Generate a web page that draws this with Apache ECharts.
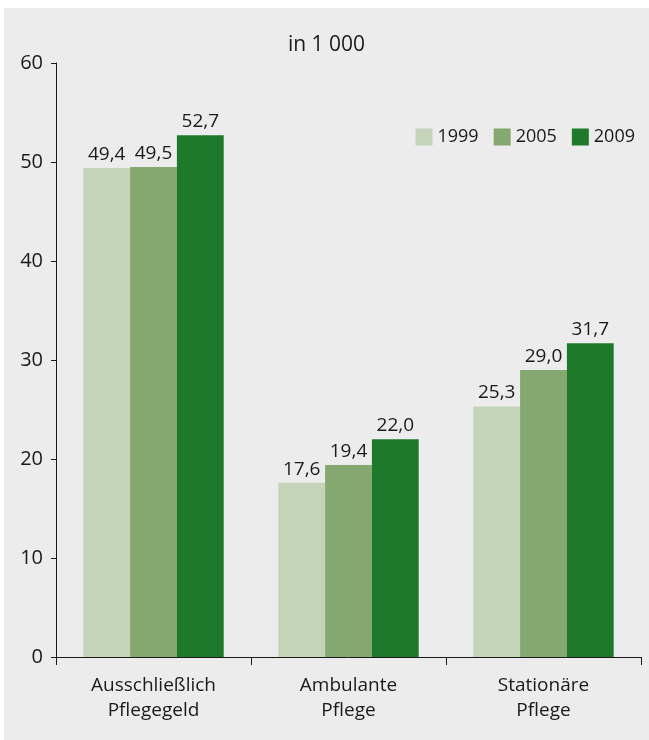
<!DOCTYPE html>
<html>
<head>
<meta charset="utf-8">
<script src="https://cdn.jsdelivr.net/npm/echarts@6/dist/echarts.min.js"></script>
<style>
  html, body { margin: 0; padding: 0; background: #ffffff; }
  #box {
    position: absolute;
    left: 4px;
    top: 8px;
    width: 645px;
    height: 732px;
  }
</style>
</head>
<body>
<div id="box"></div>
<script>
// Daten
const categories = ['Ausschließlich\nPflegegeld', 'Ambulante\nPflege', 'Stationäre\nPflege']
const years = ['1999', '2005', '2009']
const values1999 = [49.4, 17.6, 25.3]
const values2005 = [49.5, 19.4, 29.0]
const values2009 = [52.7, 22.0, 31.7]
const yTicks = [0, 10, 20, 30, 40, 50, 60]

const colors = ['#c3d4b8', '#84a86f', '#1e7a2a']
const font = '"Open Sans", "Noto Sans", sans-serif'

const myChart = echarts.init(document.getElementById('box'))

const makeSeries = (name, data, color) => ({
  name: name,
  type: 'bar',
  data: data,
  barGap: '0%',
  barCategoryGap: '28%',
  itemStyle: { color: color },
  label: {
    show: true,
    position: 'top',
    distance: 4,
    color: '#1a1a1a',
    fontSize: 19,
    fontFamily: font,
    formatter: p => p.value.toFixed(1).replace('.', ',')
  }
})

const option = {
  backgroundColor: '#ebeceb',
  animation: false,
  title: {
    text: 'in 1 000',
    left: 'center',
    top: 22,
    textStyle: { fontSize: 21, fontWeight: 'normal', color: '#1a1a1a', fontFamily: font }
  },
  legend: {
    data: years,
    right: 9,
    top: 115,
    itemWidth: 17,
    itemHeight: 17,
    itemGap: 15,
    icon: 'rect',
    textStyle: { fontSize: 18, color: '#1a1a1a', fontFamily: font }
  },
  grid: {
    left: 52,
    right: 8,
    top: 55,
    bottom: 83
  },
  xAxis: {
    type: 'category',
    data: categories,
    axisLine: { lineStyle: { color: '#1a1a1a', width: 1 } },
    axisTick: { show: true, length: 8, lineStyle: { color: '#1a1a1a' } },
    axisLabel: {
      fontSize: 19,
      color: '#1a1a1a',
      fontFamily: font,
      margin: 16,
      lineHeight: 25
    }
  },
  yAxis: {
    type: 'value',
    min: yTicks[0],
    max: yTicks[yTicks.length - 1],
    interval: 10,
    splitLine: { show: false },
    axisLine: { show: true, lineStyle: { color: '#1a1a1a', width: 1 } },
    axisTick: { show: true, length: 5, lineStyle: { color: '#1a1a1a' } },
    axisLabel: { fontSize: 20, color: '#1a1a1a', fontFamily: font, margin: 13 }
  },
  series: [
    makeSeries(years[0], values1999, colors[0]),
    makeSeries(years[1], values2005, colors[1]),
    makeSeries(years[2], values2009, colors[2])
  ]
}

myChart.setOption(option)
</script>
</body>
</html>
